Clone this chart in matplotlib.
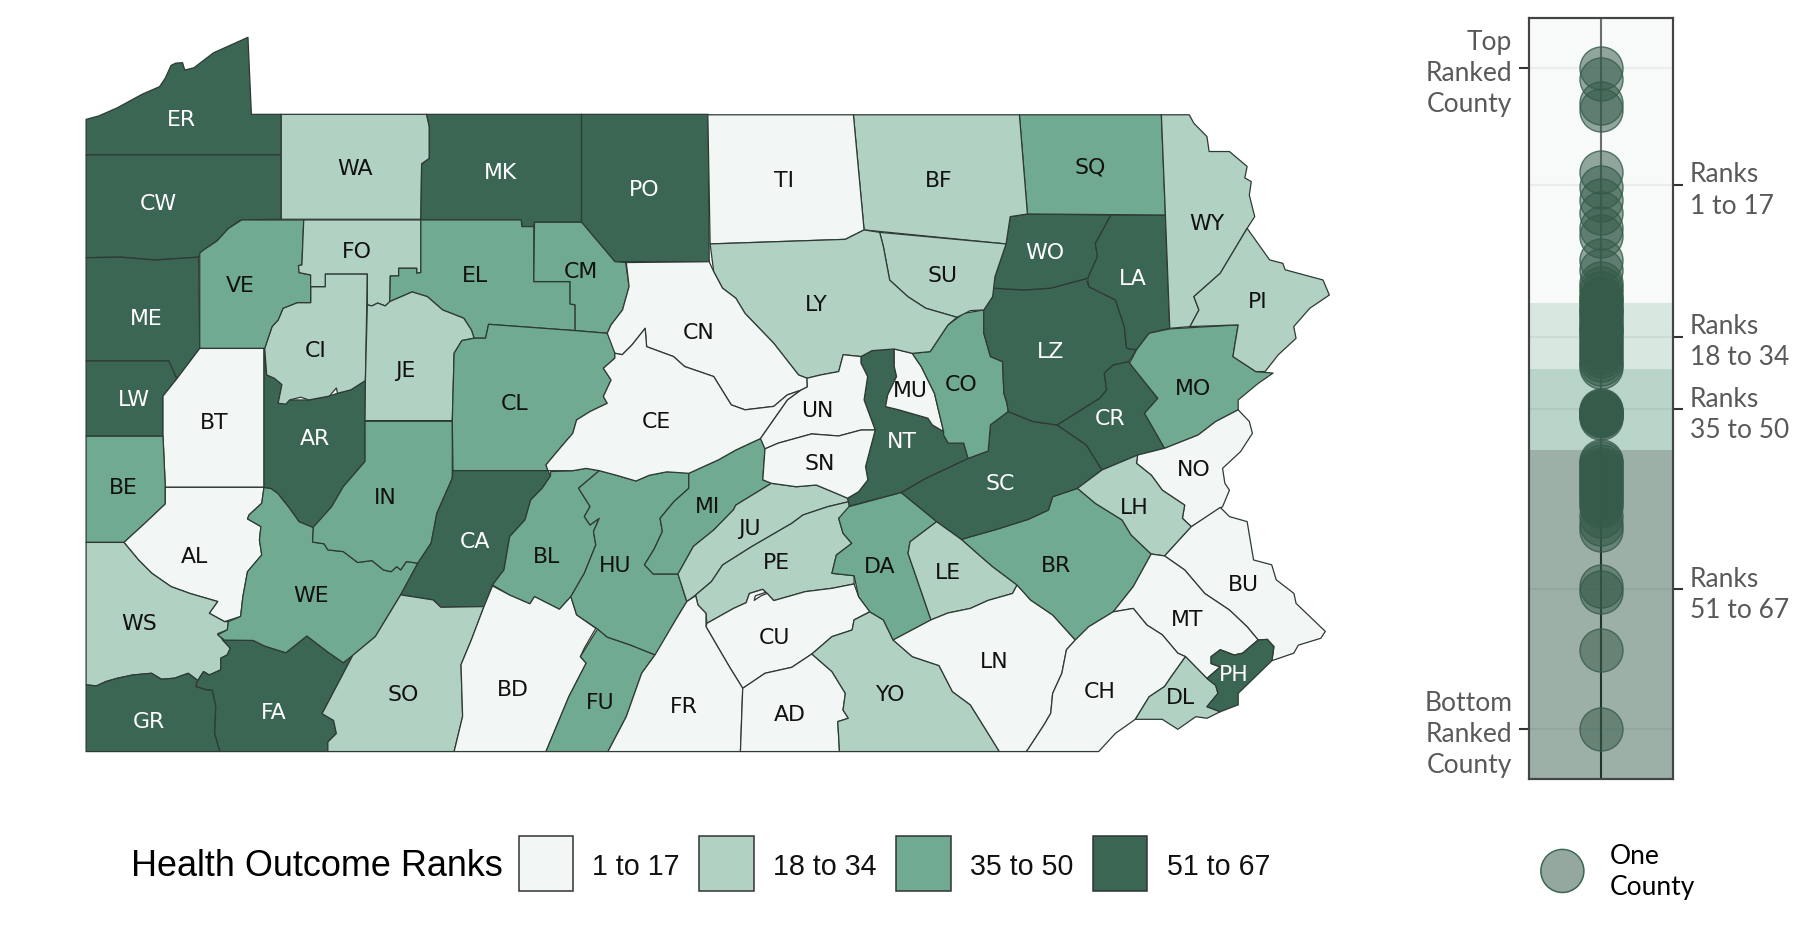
import matplotlib
matplotlib.use('Agg')
import matplotlib.pyplot as plt
from matplotlib.patches import Polygon, Rectangle

# county outlines (x, y in map units, y grows downwards)
ER = [(75,104),(86,101),(102,94),(124,82),(139,75.5),(144,68),(149,57),(153,55),(159,54.6),(161,61),(169,59),(186,46),(216,32.5),(219,99.6),(245,99.6),(245,135),(75,135)]
CW = [(75,135),(245,135),(245,191),(210,191.5),(199,199),(189,210),(177,218),(173,224),(135,226.5),(105,224),(75,224.5)]
ME = [(75,224.5),(105,224),(135,226.5),(173,224),(174,303.5),(154,330),(147,314.5),(75,314.5)]
LW = [(75,314.5),(147,314.5),(154,330),(142,345),(142,380),(75,380)]
BT = [(174,303.5),(230,303.5),(230,424.5),(144,424.5),(142,380),(142,345),(154,330)]
BE = [(75,380),(142,380),(144,424.5),(144,439),(126,456),(108,472.5),(75,472.5)]
AL = [(108,472.5),(126,456),(144,439),(144,424.5),(230,424.5),(228,438.4),(217,448.5),(215.6,452),(227.3,458.7),(226,470.3),(228,483.4),(215.6,498),(211.6,519.7),(209.6,537),(195.6,541.5),(182.3,534.2),(189.6,524),(165.6,517),(149,511),(132.3,499.4),(120.6,487.7)]
WS = [(75,472.5),(108,472.5),(120.6,487.7),(132.3,499.4),(149,511),(165.6,517),(189.6,524),(182.3,534.2),(195.6,541.5),(199,541.5),(198,548.7),(189.6,552),(194,557.4),(200.6,564.7),(198,570.5),(192.3,573.4),(192.3,583.5),(182.3,588),(177.3,585),(172.3,592.8),(164,586.5),(152,590.8),(140.6,591.7),(132,586.5),(115.6,588),(102.3,590.8),(92.3,593.7),(84,597.5),(75,596.6)]
GR = [(75,596.6),(84,597.5),(92.3,593.7),(102.3,590.8),(115.6,588),(132,586.5),(140.6,591.7),(152,590.8),(164,586.5),(172.3,592.8),(170.6,598),(180.6,601),(185,601),(188,615.5),(187,638.7),(191.6,654.7),(75,654.7)]
FA = [(172.3,592.8),(177.3,585),(182.3,588),(192.3,583.5),(192.3,573.4),(198,570.5),(200.6,564.7),(194,557.6),(220.6,557.9),(230.6,562.8),(249,568.6),(267.3,554),(285.6,568),(299,577.3),(307.3,570.9),(280.6,621.7),(290.6,627.6),(293,639),(285.6,646.4),(285.6,654.7),(191.6,654.7),(187,638.7),(188,615.5),(185,601),(180.6,601),(170.6,598)]
WE = [(230,424.5),(236,425.5),(242,429.7),(252.3,442.7),(260.6,454.4),(273,459.2),(272.3,472.2),(282.3,473.7),(285.6,479),(299,480.5),(311.6,490),(324,488.3),(334,496.5),(340.6,498),(345.6,493.6),(349,496.5),(354,489.2),(364,490.6),(349,518.2),(327,554.5),(307.3,570.9),(299,577.3),(285.6,568),(267.3,554),(249,568.6),(230.6,562.8),(220.6,557.9),(195.6,557.6),(189.6,553),(198,548.7),(199,541.5),(209.6,537),(211.6,519.7),(215.6,498),(228,483.4),(226,470.3),(227.3,458.7),(215.6,452),(217,448.5),(228,438.4)]
AR = [(230,303.5),(232.3,326.6),(239,329.5),(245.6,335),(242.3,351.3),(252.3,348.4),(269,348.4),(285.6,345.4),(294,342.6),(305.6,339.6),(318.3,331.5),(318,402),(299,424),(289,441.3),(274,460),(260.6,454.4),(252.3,442.7),(242,429.7),(236,425.5),(230,424.5)]
CI = [(230.6,303.4),(237,284.5),(242.3,278.7),(246.6,268.5),(259,263.6),(270.6,263.6),(270.6,249.7),(283.3,249.7),(283.3,238.6),(320,238.6),(318.3,331.5),(305.6,339.6),(294,342.6),(293,338),(287,345),(269,348.4),(262,346),(252.3,348.4),(249,352),(242.3,351.3),(245.6,335),(239,329.5),(232.3,326.6)]
VE = [(174,220.6),(177,218),(189,210),(199,199),(210.6,191.6),(264.6,191.6),(263,230.8),(260,231.4),(260.6,237.5),(270.6,239.5),(270.6,263.6),(259,263.6),(246.6,268.5),(242.3,278.7),(237,284.5),(230.6,303.4),(174,303.4)]
FO = [(264.6,191.6),(366.6,191.6),(366.6,237.5),(363,238),(363,233.7),(347.3,233.7),(347.3,240.4),(340,240.4),(339.6,262.7),(335.6,266.5),(329,264),(324,266.5),(320,265.6),(320,238.6),(283.3,238.6),(283.3,249.7),(270.6,249.7),(270.6,239.5),(260.6,237.5),(260,231.4),(263,230.8)]
WA = [(245,99.6),(371.6,99.6),(374,110.3),(374,138),(367.3,142.8),(366.6,191),(245,191)]
MK = [(371.6,99.6),(506.6,99.6),(506.6,193.6),(465.6,193.6),(465,197.4),(454.6,197.4),(454,191.6),(366.6,191.6),(367.3,142.8),(374,138),(374,110.3)]
PO = [(506.6,99.6),(617,99.6),(617.8,228),(535.6,227.9),(506.6,193.6)]
EL = [(366.6,191.6),(454,191.6),(454.6,197.4),(465,197.4),(465,245.3),(496.6,245.3),(496.6,264.7),(501,265.6),(501,288),(425.6,282.5),(423,294.6),(413,294.6),(410.6,287.4),(404,277.2),(385.6,270),(372.3,258.4),(359,254.3),(339.6,262.7),(340,240.4),(347.3,240.4),(347.3,233.7),(363,233.7),(363,238),(366.6,237.5)]
CM = [(465.6,193.6),(506.6,193.6),(535.6,227.9),(545,228.7),(548,249.6),(542.3,270),(532.3,283),(529,290.3),(501,288),(501,265.6),(496.6,264.7),(496.6,245.3),(465,245.3)]
JE = [(320,265.6),(324,266.5),(329,264),(335.6,266.5),(339.6,262.7),(359,254.3),(372.3,258.4),(385.6,270),(404,277.2),(410.6,287.4),(413,294.6),(402.3,296.7),(395.6,307.7),(394,366.4),(318,366.4),(318.3,331.5)]
IN = [(318,367),(394,367),(394,416.6),(380.6,447),(375.6,473),(364,490.6),(354,489.2),(349,496.5),(345.6,493.6),(340.6,498),(334,496.5),(324,488.3),(311.6,490),(299,480.5),(285.6,479),(282.3,473.7),(272.3,472.2),(273,459.2),(289,441.3),(299,424),(318,402)]
CL = [(395.6,307.7),(402.3,296.7),(413,294.6),(423,294.6),(425.6,282.5),(501,288),(529,290.3),(535.6,303.4),(535.6,312),(525.6,320.8),(532.3,331),(525.6,345.4),(529,351.3),(514,358.5),(502.3,365.8),(499,377.4),(489,389),(475.6,405),(477.3,410),(394.6,410),(394,366.4)]
CA = [(394.6,410),(477.3,410),(479.6,414.6),(472.3,425.3),(462.3,435.5),(457.3,452.9),(444,467.4),(439,496.5),(429,509.5),(422.3,528.4),(384,529),(377.3,522.6),(349,518.2),(364,490.6),(375.6,473),(380.6,447),(394,416.6)]
BL = [(479.6,410.8),(499,410),(510.6,408),(522,410),(504,425.3),(514,441.3),(509,450),(514,457.3),(522,451.5),(517,463),(519,474.7),(509,499.4),(497.3,519.7),(487.3,530.7),(465.6,519.7),(461.6,526),(444,518.4),(429,509.5),(439,496.5),(444,467.4),(457.3,452.9),(462.3,435.5),(472.3,425.3),(479.6,414.6)]
SO = [(349,518.2),(377.3,522.6),(384,529),(421.6,528.4),(410.6,557.4),(401.6,579),(403,624),(395.6,654.7),(285.6,654.7),(285.6,646.4),(293,639),(290.6,627.6),(280.6,621.7),(307.3,570.9),(327,554.5)]
BD = [(429,510.4),(444,518.4),(461.6,526),(465.6,519.7),(487.3,530.7),(497.3,519.7),(502.3,535.6),(519,547.3),(509,564.6),(505.6,572),(510.6,577.7),(495.6,606.7),(475.6,654.7),(395.6,654.7),(403,624),(401.6,579),(410.6,557.4),(421.6,528.4)]
FU = [(520.6,547.8),(529,555),(549,561.8),(570.6,570.5),(559,586.4),(545.6,624.2),(529.6,654.7),(475.6,654.7),(495.6,606.7),(510.6,577.7),(505.6,572)]
HU = [(522,410),(537,414),(554,419),(565.6,414),(581,411),(600,412),(600,425.4),(587,437),(575,451.5),(577,463),(570,478),(561.4,492),(569,500),(590.6,500),(598.3,524),(588.6,540),(571,570.6),(549,561.8),(529,555),(520.6,548),(502.3,535.6),(497.3,519.7),(509,499.4),(519,474.7),(517,463),(522,451.5),(514,457.3),(509,450),(514,441.3),(504,425.3)]
MI = [(600,412.3),(625.6,400.7),(641,392),(662.5,382),(666.4,390.6),(664.5,418),(672,421),(641,440),(639,444),(621.7,461.7),(604,476),(590.6,500),(569,500),(561.4,492),(570,478),(577,463),(575,451.5),(587,437),(600,425.4)]
JU = [(672,421),(693.6,424),(711,422.5),(728.6,429.8),(738.3,434),(739.5,437),(721,441.4),(699.5,448.6),(689.7,455.9),(654.7,476.2),(629.4,492.2),(619.7,506.7),(606,518.3),(598.3,524),(590.6,500),(604,476),(621.7,461.7),(639,444),(641,440)]
PE = [(739.5,437),(740,445.7),(730.6,451.5),(734.4,464.6),(742,473.3),(728.6,483.5),(724.7,499.4),(744,501.5),(744,508.7),(724.7,512.5),(701.4,515.4),(674,523.2),(668.3,516.9),(664.4,513.4),(652.8,517),(650,525),(639,530),(615.8,543),(615,534.3),(608,527),(606,518.3),(619.7,506.7),(629.4,492.2),(654.7,476.2),(689.7,455.9),(699.5,448.6),(721,441.4)]
CU = [(615.8,543),(639,530),(650,525),(652.8,517),(664.4,513.4),(667,516),(658,519),(657,523),(663,519),(668.3,516.9),(674,523.2),(701.4,515.4),(724.7,512.5),(744,508.7),(748,519.8),(757.8,532.8),(744,540),(742.3,548.8),(724.7,554.6),(707.2,569.7),(689.7,581.3),(666.4,586.5),(647,599.6),(635.3,580.7),(615,545.9)]
FR = [(606,519),(608,527),(615,534.3),(615,545.9),(635.3,580.7),(647,599.6),(645,654.7),(529.6,654.7),(545.6,624.2),(559,586.4),(570.6,570.5),(588.6,540),(598.3,524)]
AD = [(647,599.6),(666.4,586.5),(689.7,581.3),(707.2,569.7),(724.7,585),(736.4,604),(734.4,618.5),(739,625.7),(729.8,628.6),(731.3,654.7),(645,654.7)]
YO = [(707.2,569.7),(724.7,554.6),(742.3,548.8),(744,540),(757.8,533),(769.5,540),(778,557.5),(794.7,572),(818,579.8),(829.7,602.5),(845.3,614),(870.6,654.7),(731.3,654.7),(729.8,628.6),(739,625.7),(734.4,618.5),(736.4,604),(724.7,585)]
DA = [(739.5,441.4),(785,429),(816,454.4),(792.8,471.9),(791,482),(811,540),(778,557.5),(769.5,540),(757.8,533),(748,519.8),(744,501.5),(724.7,499.4),(728.6,483.5),(742,473.3),(734.4,464.6),(730.6,451.5)]
LE = [(816,454.4),(837.5,469.8),(853,483.5),(864.7,493.6),(886,509.6),(882,517),(860.8,523),(845.3,530),(825.8,534),(811,540),(791,482),(792.8,471.9)]
LN = [(778,557.5),(811,540),(825.8,534),(845.3,530),(860.8,523),(882,517),(886,509.6),(897.8,522.7),(917,535.7),(936.7,557.5),(929,566),(925,586.5),(917,604),(915.3,621.4),(909.4,631.5),(896,652),(894,654.7),(870.6,654.7),(845.3,614),(829.7,602.5),(818,579.8),(794.7,572)]
BR = [(837.5,469.8),(868.6,461),(895.8,452.4),(913.3,444.3),(917,432.7),(938.6,425.4),(954.2,438.5),(977.5,453),(985.3,466),(1002.8,482.6),(987.2,511),(969.7,533),(948.3,546),(936.7,557.5),(917,535.7),(897.8,522.7),(886,509.6),(864.7,493.6),(853,483.5)]
SC = [(785,429),(806.4,416.7),(843.3,399.3),(860.8,392.9),(862.8,370),(878.3,358.5),(899.7,367.2),(921,370.2),(946.4,387.7),(960,409.4),(938.6,425.4),(917,432.7),(913.3,444.3),(895.8,452.4),(868.6,461),(837.5,469.8),(816,454.4)]
NT = [(750,310.6),(759.7,305.4),(779,304),(779,319.3),(781,328),(773.3,344),(771.4,354.2),(783,357),(808.3,364.3),(812,370),(822,376),(822,379),(826,386),(839.5,386),(843.3,399.3),(806.4,416.7),(785,429),(740,440.8),(738.3,434),(748,428.3),(756,418),(754,406.5),(762.4,374.6),(752.7,348.4),(755.8,328),(750,316.4)]
MU = [(779,304),(794.7,307.8),(802.5,319.3),(814,342.6),(822,376),(812,370),(808.3,364.3),(783,357),(771.4,354.2),(773.3,344),(781,328),(779,319.3)]
CO = [(794.7,307.8),(810.3,306.3),(825.8,283),(839.4,273),(857,270),(857,290.3),(862.8,310.6),(873.3,315),(874.5,342.6),(877.2,351.3),(878.3,358.5),(862.8,370),(860.8,392.9),(843.3,399.3),(839.5,386),(826,386),(822,379),(822,376),(814,342.6),(802.5,319.3)]
LZ = [(864.7,251),(892,252.6),(915.3,251),(946.4,242.4),(948.4,249.7),(971.7,261.3),(979.4,284.5),(981.4,303.4),(990,304.8),(983.3,315),(969.7,318),(962,325),(964,339.7),(958,347),(921,370.2),(899.7,367.2),(878.3,358.5),(877.2,351.3),(874.5,342.6),(873.3,315),(862.8,310.6),(857,290.3),(857,270),(864.7,258.4)]
WO = [(895,186.4),(967.8,187.3),(954.2,212),(956,223.5),(947.6,242.4),(915.3,251),(892,252.6),(864.7,251),(866.7,241),(876.4,212),(880,188.7)]
LA = [(967.8,187.3),(1015.2,187.3),(1019,286),(1001,290.3),(990,304.8),(981.4,303.4),(979.4,284.5),(971.7,261.3),(948.4,249.7),(947.6,242.4),(956,223.5),(954.2,212)]
CR = [(983.3,315),(984,316.4),(1008.6,347),(997,360),(1014.5,390.5),(991,396.4),(960,409.4),(946.4,387.7),(921,370.2),(958,347),(964,339.7),(962,325),(969.7,318)]
MO = [(1019,286.5),(1078.6,283),(1074,310.6),(1094,323.7),(1109,325),(1096,334),(1078.6,348.4),(1078.6,357),(1059,367.2),(1043.6,379),(1014.5,390.5),(997,360),(1008.6,347),(984,316.4),(990,304.8),(1001,290.3)]
SQ = [(888,100),(1011.7,100),(1015.2,187.3),(895,186.4)]
BF = [(743.4,100),(888,100),(895,186.4),(880,188.7),(876.4,212.5),(752.7,200.3)]
TI = [(616.6,100),(743.4,100),(752.7,200.3),(736.4,208.5),(618.6,212.5)]
SU = [(766.3,202.4),(876.4,212.5),(866.7,241),(864.7,258.4),(857,270),(845.3,270.6),(833.6,276.4),(806.4,268.5),(790.8,258.4),(775,244),(769.5,214.8)]
LY = [(618.6,212.5),(736.4,208.5),(752.7,200.3),(766.3,202.4),(769.5,214.8),(775,244),(790.8,258.4),(806.4,268.5),(833.6,276.4),(825.8,283),(810.3,306.3),(794.7,307.8),(779,304),(759.7,305.4),(750,310.6),(734.5,309),(730.6,323.7),(715,326.6),(703,329.5),(695.6,326.6),(674,299),(649,273),(641,259.8),(629.4,251),(621.7,236.6)]
CN = [(545.6,228.7),(617.8,228),(621.7,236.6),(629.4,251),(641,259.8),(649,273),(674,299),(695.6,326.6),(703,329.5),(703.3,337),(697.5,340),(685.8,344),(674,354),(649,357),(637,352.7),(621.7,328),(596.4,319.3),(586.7,310.6),(563.3,302),(562,286),(550.6,300.4),(542,309),(535.6,307.7),(529,290.3),(532.3,283),(542.3,270),(548,249.6)]
CE = [(535.6,307.7),(542,309),(550.6,300.4),(562,286),(563.3,302),(586.7,310.6),(596.4,319.3),(621.7,328),(637,352.7),(649,357),(674,354),(685.8,344),(697.5,340),(686,348.4),(664.5,379),(662.5,382),(641,392),(625.6,400.7),(600,412.3),(581,411),(565.6,414),(554,419),(537,414),(522,410),(510.6,408),(499,410),(477.3,410),(475.6,405),(489,389),(499,377.4),(502.3,365.8),(514,358.5),(529,351.3),(525.6,345.4),(532.3,331),(525.6,320.8),(535.6,312)]
UN = [(703,329.5),(715,326.6),(730.6,323.7),(734.5,309),(750,310.6),(750,316.4),(755.8,328),(752.7,348.4),(762.4,374.6),(750,374.6),(730.6,379.8),(707,378),(678,386),(666.4,391),(662.5,382),(686,348.4),(697.5,340),(703.3,337)]
SN = [(666.4,391),(678,386),(707,378),(730.6,379.8),(750,374.6),(762.4,374.6),(754,406.5),(756,418),(748,428.3),(738.3,434),(728.6,429.8),(711,422.5),(693.6,424),(672,421),(664.5,418)]
WY = [(1011.7,100),(1036,100),(1040,107.4),(1051.4,119),(1053.3,132),(1071,132),(1086.4,145),(1084.4,155),(1090,158.2),(1088.3,170),(1093,188.7),(1086.4,198.9),(1063,238),(1040,258.4),(1044.4,270),(1036.6,284.5),(1019,286),(1015.2,187.3)]
PI = [(1086.4,198.9),(1106,226.4),(1117.5,229.4),(1119.5,235),(1152.5,243.9),(1158,257),(1141,268.5),(1127,284.5),(1129,294.7),(1113.6,309),(1102,323.7),(1094,323.7),(1074,310.6),(1078.6,283),(1036.6,284.5),(1044.4,270),(1040,258.4),(1063,238)]
NO = [(991,396.4),(1014.5,390.5),(1043.6,379),(1059,367.2),(1078.6,357),(1088.3,367.2),(1091,377.5),(1080.6,393.5),(1072.8,400.7),(1065,408),(1067,421),(1071,427),(1065,441.4),(1037.8,458.8),(1030,451.5),(1032,440),(1012.5,427),(1003,414),(990,403.6)]
LH = [(991,396.4),(990,403.6),(1003,414),(1012.5,427),(1032,440),(1030,451.5),(1037.8,458.8),(1014.5,484.3),(1002.8,482.6),(985.3,466),(977.5,453),(954.2,438.5),(938.6,425.4),(960,409.4)]
BU = [(1063,442),(1071,450),(1086.4,454.4),(1092,487.8),(1107.8,492),(1111.7,505),(1127.2,517),(1129,525.6),(1154.5,550),(1150.6,556),(1131,562),(1127,569),(1108,575.5),(1109.7,563.3),(1104,557),(1096,557.5),(1086.4,546),(1071,531.4),(1049.5,517),(1032,496.5),(1014.5,484.3),(1037.8,458.8)]
MT = [(1002.8,482.6),(1014.5,484.3),(1032,496.5),(1049.5,517),(1071,531.4),(1086.4,546),(1096,557.5),(1082.5,569),(1075,570.6),(1063,566),(1055,572),(1055,578),(1063,581),(1051.4,591),(1032.7,572),(1026,569),(1012.5,553),(999,544.4),(987.2,530),(969.7,533),(987.2,511)]
CH = [(969.7,533),(987.2,530),(999,544.4),(1012.5,553),(1026,569),(1032.7,572),(1020.3,589.4),(1014.5,598),(1001,607),(989,626.6),(971.7,638.8),(957,654.7),(894,654.7),(896,652),(909.4,631.5),(915.3,621.4),(917,604),(925,586.5),(929,566),(936.7,557.5),(948.3,546)]
DL = [(1032.7,572),(1051.4,591),(1059,597),(1061,604),(1051.4,615.6),(1063,620),(1051.4,625.7),(1041.7,624.3),(1026,635.3),(1012.5,626.6),(989,626.6),(1001,607),(1014.5,598),(1020.3,589.4)]
PH = [(1063,566),(1075,570.6),(1082.5,569),(1096,557.5),(1104,557),(1109.7,563.3),(1108,575.5),(1092,591),(1078.6,604),(1078.6,614),(1063,620),(1051.4,615.6),(1061,604),(1059,597),(1051.4,591),(1063,581),(1055,578),(1055,572)]

county_names = ['ER','CW','ME','LW','BT','BE','AL','WS','GR','FA','WE','AR','CI','VE','FO','WA','MK','PO','EL','CM','JE','IN','CL','CA','BL','SO','BD','FU','HU','MI','JU','PE','CU','FR','AD','YO','DA','LE','LN','BR','SC','NT','MU','CO','LZ','WO','LA','CR','MO','SQ','BF','TI','SU','LY','CN','CE','UN','SN','WY','PI','NO','LH','BU','MT','CH','DL','PH']
county_outlines = [ER,CW,ME,LW,BT,BE,AL,WS,GR,FA,WE,AR,CI,VE,FO,WA,MK,PO,EL,CM,JE,IN,CL,CA,BL,SO,BD,FU,HU,MI,JU,PE,CU,FR,AD,YO,DA,LE,LN,BR,SC,NT,MU,CO,LZ,WO,LA,CR,MO,SQ,BF,TI,SU,LY,CN,CE,UN,SN,WY,PI,NO,LH,BU,MT,CH,DL,PH]
# rank group per county: 0 = 1 to 17 ... 3 = 51 to 67
county_group = [3,3,3,3,0,2,0,1,3,3,2,3,1,2,1,1,3,3,2,2,1,2,2,3,2,1,0,2,2,2,1,1,0,0,0,1,2,1,0,2,3,3,0,2,3,3,3,3,2,2,1,0,1,1,0,0,0,0,1,1,0,1,0,0,0,1,3]
label_x = [158,138,127,117,187,107,169,121,130,238,271,274,275,209,311,309,436,561,414,506,353,336,448,414,476,351,447,523,536,616,653,676,675,596,688,775,766,826,866,920,871,786,793,837,915,910,987,967,1039,950,818,683,821,711,609,572,712,714,1051,1096,1040,988,1083,1034,958,1028,1075]
label_y = [104,177,277,348,368,424,484,543,628,620,518,382,305,248,219,146,150,165,240,236,322,433,351,471,484,605,600,612,492,441,460,490,555,615,622,605,493,498,576,492,421,384,340,335,306,220,242,364,338,145,157,157,240,265,289,367,357,403,194,262,409,442,509,539,602,607,587]

group_labels = ['1 to 17', '18 to 34', '35 to 50', '51 to 67']
group_colors = ['#f2f6f5', '#b1d1c3', '#70ab91', '#3b6653']

# strip on the right: every county as one dot, y in strip units
county_scores = [68,79,103,109.5,171.5,187,200,213,228,236,260,270,
                 283,288,293,298,300,303,308,310,312,316,320,324,328,330,332,336,340,344,348,352,356,360,364,367,
                 410,411,412,413,414,415,416,418,
                 461,463,466,469,472,475,478,481,484,487,490,493,496,499,503,506,
                 516,523.5,529.5,586,592,650,729]
band_edges = [17.7, 303, 369, 450, 779.3]
band_colors = ['#f7faf8', '#d9e7e1', '#b9d4c9', '#9db0a8']
left_ticks = [68.3, 729]
left_tick_labels = ['Top\nRanked\nCounty', 'Bottom\nRanked\nCounty']
right_ticks = [185, 336.7, 409.3, 589.3]
right_tick_labels = ['Ranks\n1 to 17', 'Ranks\n18 to 34', 'Ranks\n35 to 50', 'Ranks\n51 to 67']

W, H = 1800, 935
fig = plt.figure(figsize=(W/100, H/100), dpi=100)
ax = fig.add_axes([0, 0, 1, 1])
ax.set_xlim(0, 1568)
ax.set_ylim(1568*H/W, 0)
ax.axis('off')

for name, outline, g, lx, ly in zip(county_names, county_outlines, county_group, label_x, label_y):
    ax.add_patch(Polygon(outline, closed=True, facecolor=group_colors[g], edgecolor='#2e3a34', linewidth=0.9, joinstyle='round'))
    ax.text(lx, ly + 0.8, name, ha='center', va='center', fontsize=15.8, family='DejaVu Sans',
            color='white' if g == 3 else '#111111')

# legend under the map
swatch_x = [451.7, 609, 780.5, 952]
text_x = [515.6, 673, 845, 1017]
ax.text(114, 755, 'Health Outcome Ranks', ha='left', va='center', fontsize=25.9, family='Liberation Sans', color='black')
for sx, tx, lab, c in zip(swatch_x, text_x, group_labels, group_colors):
    ax.add_patch(Rectangle((sx, 728), 47.5, 48, facecolor=c, edgecolor='#333333', linewidth=1.1))
    ax.text(tx, 755, lab, ha='left', va='center', fontsize=20.6, family='Liberation Sans', color='#111111')

# one county key
ax.scatter([1361], [758.7], s=961, color='#355b4a', alpha=0.53, linewidths=0)
ax.scatter([1361], [758.7], s=961, facecolor='none', edgecolor='#3b6653', linewidths=1.1)
ax.text(1402, 760, 'One\nCounty', ha='left', va='center', fontsize=19, family='Lato', color='black', linespacing=1.3)

# rank strip
strip = fig.add_axes([1529.3/W, 1-779.3/H, (1673-1529.3)/W, (779.3-17.7)/H])
strip.set_xlim(-1, 1)
strip.set_ylim(779.3, 17.7)
for i, c in enumerate(band_colors):
    strip.axhspan(band_edges[i], band_edges[i+1], color=c, linewidth=0, zorder=0)
for t in left_ticks + right_ticks:
    strip.axhline(t, color='black', alpha=0.05, linewidth=1.5, zorder=1)
strip.vlines(0, band_edges[0], band_edges[3], color='#6a6e6c', linewidth=1.5, zorder=2)
strip.vlines(0, band_edges[3], band_edges[4], color='#22332b', linewidth=1.5, zorder=2)
strip.scatter([0]*len(county_scores), county_scores, s=961, facecolor=(0.208, 0.357, 0.29, 0.53),
              edgecolor=(0.208, 0.357, 0.29, 0.8), linewidths=1.0, zorder=3)
strip.set_xticks([])
strip.set_yticks(left_ticks)
strip.set_yticklabels(left_tick_labels, ha='right', multialignment='right', fontsize=19, family='Lato', color='#595959', linespacing=1.3)
strip.tick_params(axis='y', length=7.2, width=1.5, color='#333333', pad=5)
strip2 = strip.twinx()
strip2.set_ylim(779.3, 17.7)
strip2.set_yticks(right_ticks)
strip2.set_yticklabels(right_tick_labels, ha='left', multialignment='left', fontsize=19, family='Lato', color='#595959', linespacing=1.3)
strip2.tick_params(axis='y', length=7.2, width=1.5, color='#333333', pad=5)
for a in (strip, strip2):
    for sp in a.spines.values():
        sp.set_linewidth(1.5)
        sp.set_color('#444444')

fig.savefig('out.png', dpi=100, facecolor='white')
